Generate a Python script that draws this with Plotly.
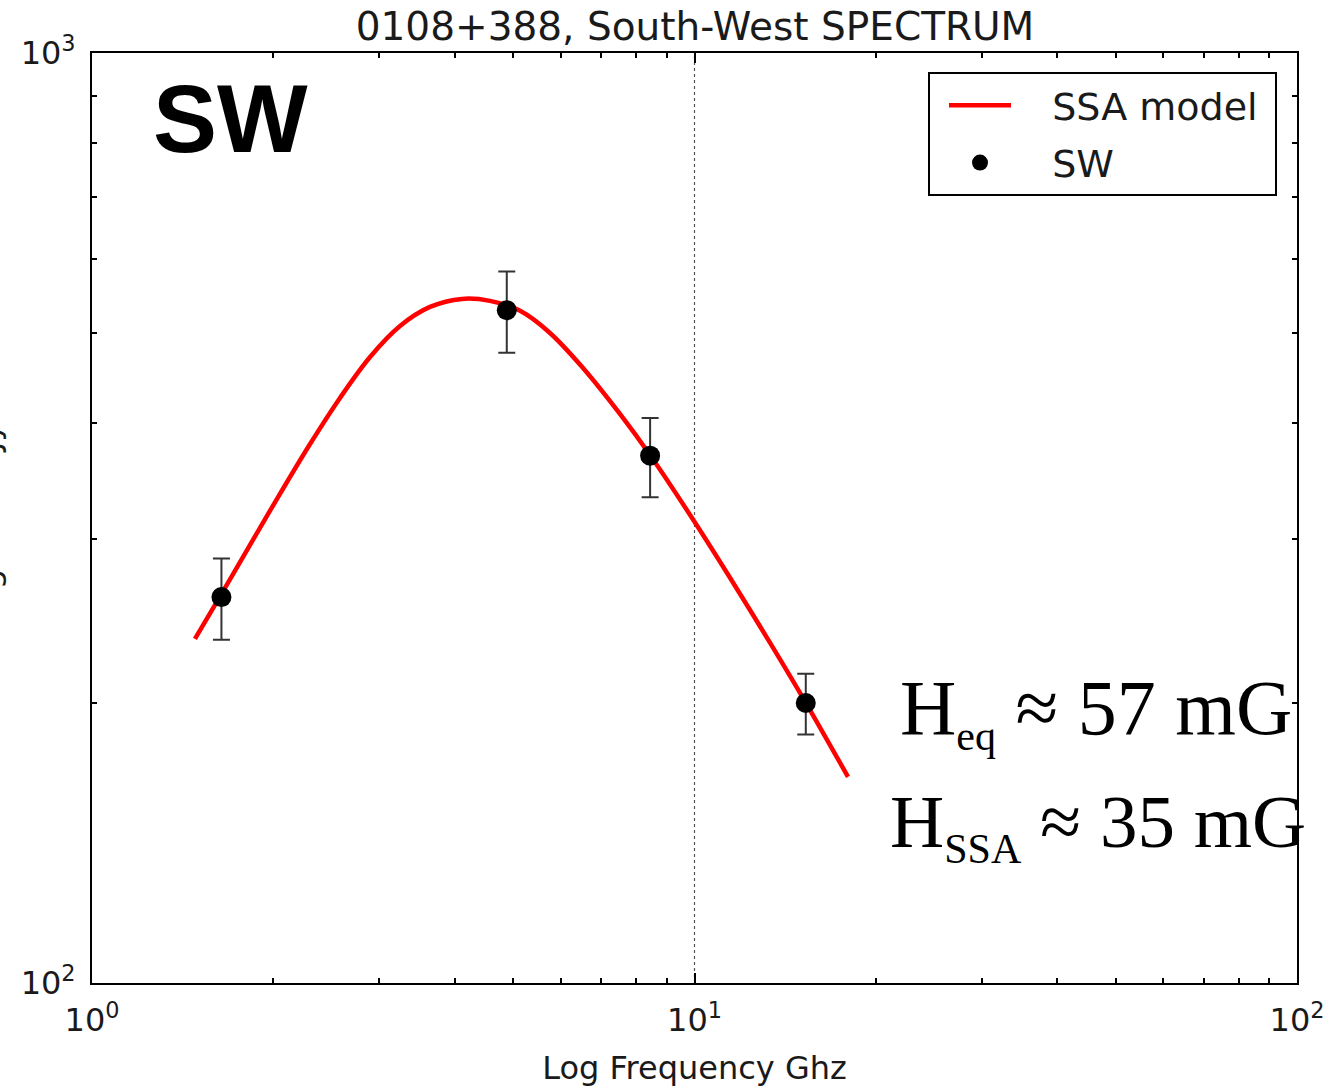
import plotly.graph_objects as go

# ---- data ----
obs_freq = [1.64, 4.88, 8.44, 15.3]          # GHz
obs_flux = [260, 529, 369, 200]              # mJy
obs_err = [26, 53, 36, 15]                   # mJy

model_freq = [1.482, 1.637, 1.850, 2.051, 2.301, 2.580, 2.894, 3.245, 3.639, 4.113,
              4.577, 5.134, 5.756, 6.530, 7.521, 8.437, 9.981, 11.46, 13.35, 15.31, 17.98]
model_flux = [234.4, 261.4, 299.5, 335.7, 379.8, 425.7, 471.1, 508.7, 533.3, 544.0,
              541.3, 528.1, 500.0, 458.5, 409.2, 369.6, 313.9, 272.6, 232.1, 200.0, 166.6]

x_tickvals = [1, 10, 100]
x_ticktext = ["10<sup>0</sup>", "10<sup>1</sup>", "10<sup>2</sup>"]
y_tickvals = [100, 1000]
y_ticktext = ["10<sup>2</sup>", "10<sup>3</sup>"]
x_minor = [m * d for d in (1, 10) for m in range(2, 10)]
y_minor = [m * 100 for m in range(2, 10)]

title_text = "0108+388, South-West SPECTRUM"
x_title = "Log Frequency Ghz"
y_title = "Log Flux mJy"
label_big = "SW"
SUB = '<sub><span style="font-size:42px">{}</span></sub>'
heq_text = "H" + SUB.format("eq") + " ≈ 57 mG"
hssa_text = "H" + SUB.format("SSA") + " ≈ 35 mG"

W, H = 1327, 1087
ML, MR, MT, MB = 92, 30, 53, 104
PW, PH = W - ML - MR, H - MT - MB


def px_x(p):
    return (p - ML) / PW


def px_y(p):
    return (H - MB - p) / PH


FONT = "DejaVu Sans"
PAD = "\u00a0\u00a0\u00a0"
TAIL = "\u00a0"

fig = go.Figure()

fig.add_trace(go.Scatter(
    x=model_freq, y=model_flux, mode="lines", name=PAD + "SSA model" + TAIL, legendgroup="m",
    line=dict(color="#ff0000", width=4.5, shape="spline", smoothing=1.0),
))

fig.add_trace(go.Scatter(
    x=obs_freq, y=obs_flux, mode="markers", name=PAD + "SW", legendgroup="o",
    marker=dict(color="black", size=20, symbol="circle"),
    error_y=dict(type="data", array=obs_err, visible=True,
                 color="#333333", thickness=2, width=8.5),
))

fig.add_vline(x=10, line=dict(color="#555555", width=1.2, dash="dot"), layer="below")

axis_common = dict(
    showgrid=False, zeroline=False, showline=True, linecolor="black", linewidth=2,
    mirror="allticks", ticks="inside", ticklen=10, tickwidth=1.5, tickcolor="black",
    tickfont=dict(family=FONT, size=32, color="#1a1a1a"),
)

fig.update_xaxes(
    type="log", range=[0, 2], tickmode="array", tickvals=x_tickvals, ticktext=x_ticktext,
    ticklabelstandoff=8,
    minor=dict(tickmode="array", tickvals=x_minor, ticks="inside", ticklen=5,
               tickwidth=1.5, tickcolor="black", showgrid=False),
    title=dict(text=x_title, font=dict(family=FONT, size=32, color="#1a1a1a"), standoff=18),
    **axis_common,
)
fig.update_yaxes(
    type="log", range=[2, 3], tickmode="array", tickvals=y_tickvals, ticktext=y_ticktext,
    ticklabelstandoff=8,
    minor=dict(tickmode="array", tickvals=y_minor, ticks="inside", ticklen=5,
               tickwidth=1.5, tickcolor="black", showgrid=False),
    **axis_common,
)

annotations = [
    # y axis label, cropped at the left border as in the reference
    dict(text=y_title, xref="paper", yref="paper", x=px_x(9), y=px_y(524),
         xanchor="right", yanchor="middle", textangle=-90, showarrow=False,
         font=dict(family=FONT, size=32, color="#1a1a1a")),
    dict(text="<b>" + label_big + "</b>", xref="paper", yref="paper",
         x=px_x(151), y=px_y(118), xanchor="left", yanchor="middle", showarrow=False,
         font=dict(family="Liberation Sans", size=96, color="black")),
    dict(text=heq_text, xref="paper", yref="paper", x=px_x(898), y=px_y(711),
         xanchor="left", yanchor="middle", showarrow=False,
         font=dict(family="Liberation Serif", size=78, color="black")),
    dict(text=hssa_text, xref="paper", yref="paper", x=px_x(888), y=px_y(826),
         xanchor="left", yanchor="middle", showarrow=False,
         font=dict(family="Liberation Serif", size=75, color="black")),
]

fig.update_layout(
    width=W, height=H,
    margin=dict(l=ML, r=MR, t=MT, b=MB, autoexpand=False),
    paper_bgcolor="white", plot_bgcolor="white",
    title=dict(text=title_text, x=(695) / W, xanchor="center",
               y=1 - 26 / H, yanchor="middle", yref="container",
               font=dict(family=FONT, size=39, color="#1a1a1a")),
    legend=dict(x=px_x(1277), y=px_y(72), xanchor="right", yanchor="top",
                bordercolor="black", borderwidth=2, bgcolor="white",
                font=dict(family=FONT, size=38, color="#1a1a1a"),
                itemwidth=62, indentation=14, tracegroupgap=5),
    annotations=annotations,
    showlegend=True,
)

fig.write_html("out.html")
